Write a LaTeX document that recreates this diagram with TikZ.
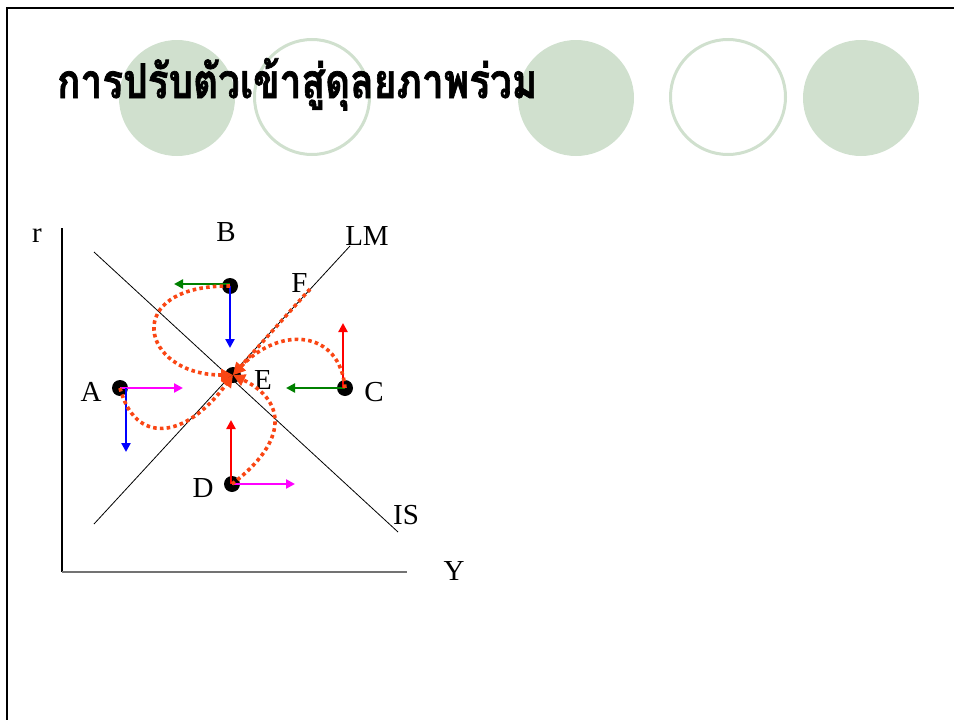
\documentclass[tikz,border=0pt]{standalone}
\usepackage{graphicx}
\usepackage{fontspec}
\setmainfont{Liberation Serif}
\newfontfamily\thaifont[Script=Thai,BoldFeatures={FakeBold=1.5}]{Loma}
\usetikzlibrary{arrows.meta}
\definecolor{sage}{RGB}{208,224,206}
\definecolor{grn}{RGB}{0,128,0}
\definecolor{blu}{RGB}{0,0,255}
\definecolor{mag}{RGB}{255,0,255}
\definecolor{rd}{RGB}{255,0,0}
\definecolor{orng}{RGB}{250,70,20}
\tikzset{
  dot/.style={circle,fill=black,inner sep=0pt,minimum size=16pt},
  lbl/.style={inner sep=0pt,font=\fontsize{29}{29}\selectfont},
  arr/.style={line width=2.3pt,-{Triangle[length=9pt,width=9pt]}},
  dotcurve/.style={orng,line width=3.6pt,dash pattern=on 3.6pt off 3.2pt,-{Triangle[length=12pt,width=12pt]}},
  ring/.style={draw=sage,line width=3pt},
  disc/.style={fill=sage}
}
\begin{document}
\begin{tikzpicture}[x=1pt,y=-1pt]
\useasboundingbox (0,0) rectangle (954,720);
% frame
\draw[line width=2.5pt] (7,720) -- (7,8) -- (954,8);
% decorative circles
\fill[disc] (177,98) circle (58);
\draw[ring] (312,97) circle (57.5);
\fill[disc] (576,98) circle (58);
\draw[ring] (728,97) circle (57.5);
\fill[disc] (861,98) circle (58);
% title
\node[anchor=base west,inner sep=0pt] (title) at (57,98)
  {\resizebox{480pt}{40pt}{\thaifont\bfseries การปรับตัวเข้าสู่ดุลยภาพร่วม}};
% axes
\coordinate (Ytop) at (62,228);
\coordinate (O) at (62,572);
\coordinate (Xend) at (407,572);
\draw[line width=1.2pt] (Ytop) -- (O);
\draw[line width=2pt,black!55] (O) -- (Xend);
\node[lbl] (r) at (37,236) {r};
\node[lbl] (Y) at (454,571) {Y};
% IS and LM
\coordinate (IS1) at (94,252);
\coordinate (IS2) at (398,532);
\coordinate (LM1) at (94,524);
\coordinate (LM2) at (350,246);
\draw[line width=0.8pt] (IS1) -- (IS2);
\draw[line width=0.8pt] (LM1) -- (LM2);
\node[lbl] (LMl) at (367,236) {LM};
\node[lbl] (ISl) at (406,515) {IS};
% points
\node[dot] (E) at (233,375) {};
\node[dot] (B) at (230,286) {};
\node[dot] (A) at (120,388) {};
\node[dot] (C) at (345,388) {};
\node[dot] (D) at (232,484) {};
\coordinate (F) at (310,289);
\node[lbl] (lB) at (226,232) {B};
\node[lbl] (lA) at (91,392) {A};
\node[lbl] (lC) at (374,392) {C};
\node[lbl] (lD) at (203,488) {D};
\node[lbl] (lE) at (263,380) {E};
\node[lbl] (lF) at (302,283) {F.};
% arrows
\coordinate (Bl) at (174,284);
\coordinate (Bd) at (230,348);
\coordinate (Ar) at (183,388);
\coordinate (Ad) at (126,452);
\coordinate (As) at (126,388);
\coordinate (Cl) at (286,388);
\coordinate (Cu) at (343,323);
\coordinate (Cs) at (343,388);
\coordinate (Du) at (231,420);
\coordinate (Dr) at (295,484);
\draw[arr,grn] (B.center |- Bl) -- (Bl);
\draw[arr,blu] (B.center) -- (Bd);
\draw[arr,mag] (A.center) -- (Ar);
\draw[arr,blu] (As) -- (Ad);
\draw[arr,grn] (C.center) -- (Cl);
\draw[arr,rd] (Cs) -- (Cu);
\draw[arr,rd] (D.center -| Du) -- (Du);
\draw[arr,mag] (D.center) -- (Dr);
% adjustment paths
\draw[dotcurve] (B.center) .. controls (120,285) and (140,375) .. (E.center);
\draw[dotcurve] (C.center) .. controls (340,330) and (280,325) .. (E.center);
\draw[dotcurve] (F) -- (E.center);
\draw[dotcurve] (A.center) .. controls (135,445) and (185,440) .. (E.center);
\draw[dotcurve] (D.center) .. controls (290,440) and (285,400) .. (E.center);
\end{tikzpicture}
\end{document}
